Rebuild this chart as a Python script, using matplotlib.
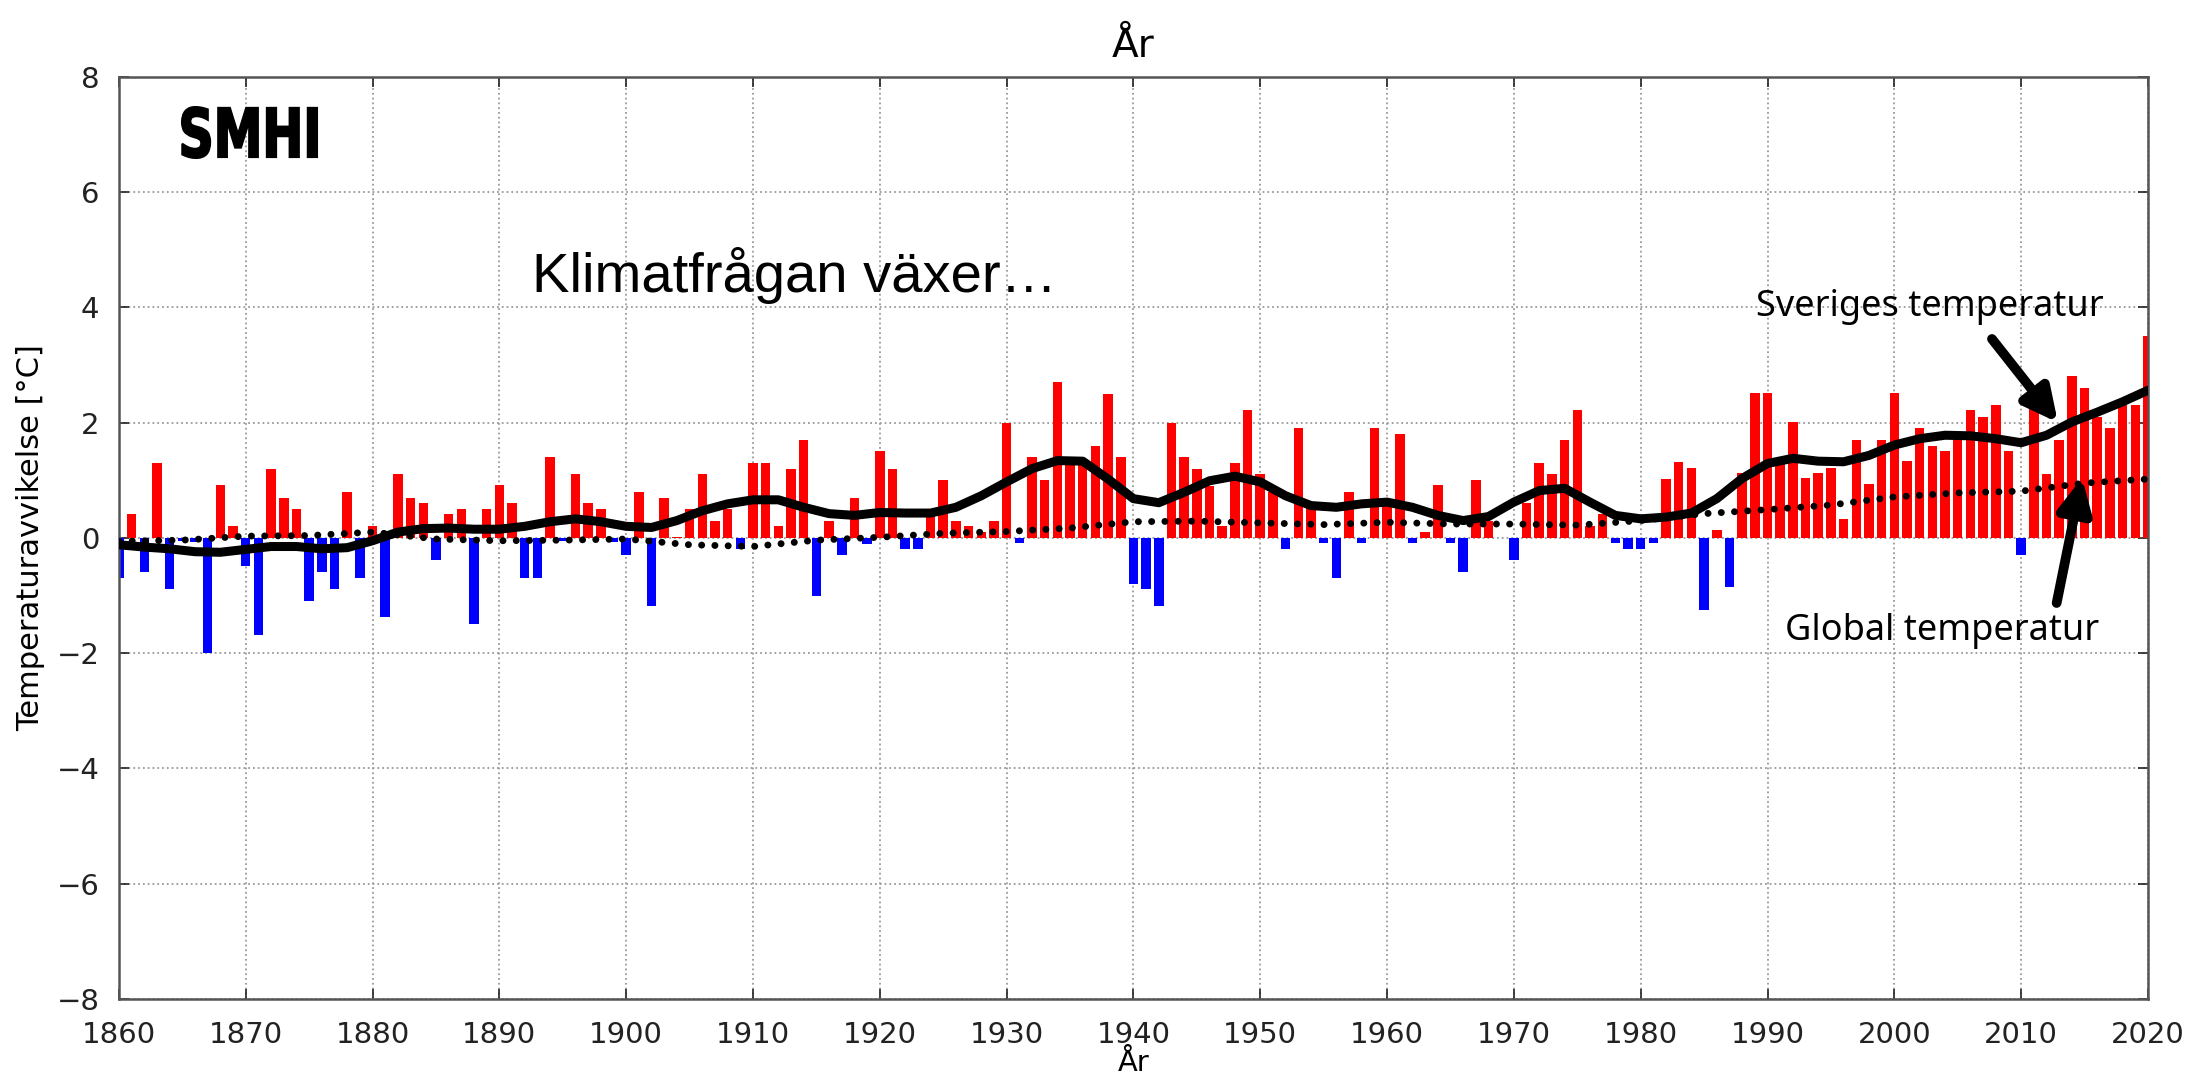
import numpy as np
import matplotlib.pyplot as plt
from matplotlib.textpath import TextPath
from matplotlib.patches import PathPatch
from matplotlib.font_manager import FontProperties
from matplotlib.transforms import Affine2D

# årliga avvikelser, Sverige (staplar)
years = np.arange(1860, 2021)
sweden_anom = [
    -0.70, 0.42, -0.60, 1.30, -0.88, -0.05, -0.08, -2.00, 0.91, 0.20,
    -0.48, -1.69, 1.20, 0.70, 0.50, -1.10, -0.60, -0.88, 0.79, -0.70,
    0.20, -1.38, 1.10, 0.70, 0.60, -0.38, 0.41, 0.50, -1.50, 0.50,
    0.91, 0.60, -0.70, -0.70, 1.40, -0.06, 1.10, 0.60, 0.50, -0.07,
    -0.30, 0.79, -1.18, 0.70, 0.02, 0.50, 1.10, 0.30, 0.50, -0.19,
    1.30, 1.30, 0.20, 1.20, 1.70, -1.00, 0.30, -0.30, 0.70, -0.10,
    1.51, 1.20, -0.20, -0.20, 0.38, 1.01, 0.30, 0.20, 0.10, 0.30,
    2.00, -0.09, 1.40, 1.01, 2.71, 1.35, 1.30, 1.60, 2.50, 1.40,
    -0.80, -0.88, -1.19, 2.00, 1.40, 1.20, 0.90, 0.20, 1.30, 2.21,
    1.10, 0.79, -0.20, 1.91, 0.60, -0.09, -0.70, 0.79, -0.09, 1.91,
    0.65, 1.81, -0.09, 0.10, 0.91, -0.09, -0.60, 1.01, 0.30, 0.00,
    -0.38, 0.60, 1.30, 1.10, 1.70, 2.21, 0.20, 0.41, -0.09, -0.20,
    -0.20, -0.09, 1.02, 1.32, 1.21, -1.25, 0.13, -0.85, 1.12, 2.51,
    2.51, 1.30, 2.01, 1.03, 1.12, 1.21, 0.32, 1.69, 0.93, 1.69,
    2.51, 1.33, 1.91, 1.60, 1.51, 1.75, 2.21, 2.10, 2.30, 1.51,
    -0.29, 2.30, 1.10, 1.69, 2.80, 2.60, 2.10, 1.91, 2.30, 2.30,
    3.50,
]

# utjämnad kurva, Sverige (avläst vartannat år)
smooth_years = np.arange(1860, 2021, 2)
sweden_smooth = [
    -0.12, -0.16, -0.19, -0.24, -0.25, -0.20, -0.15, -0.15, -0.19, -0.17,
    -0.05, 0.10, 0.16, 0.17, 0.15, 0.15, 0.20, 0.28, 0.33, 0.28,
    0.20, 0.18, 0.30, 0.47, 0.59, 0.66, 0.66, 0.53, 0.42, 0.39,
    0.44, 0.43, 0.43, 0.53, 0.73, 0.97, 1.20, 1.34, 1.33, 1.02,
    0.68, 0.61, 0.79, 0.99, 1.07, 0.97, 0.73, 0.56, 0.53, 0.59,
    0.62, 0.53, 0.39, 0.30, 0.37, 0.62, 0.82, 0.86, 0.62, 0.39,
    0.33, 0.36, 0.43, 0.68, 1.03, 1.29, 1.38, 1.33, 1.32, 1.43,
    1.61, 1.72, 1.78, 1.77, 1.72, 1.65, 1.78, 2.01, 2.18, 2.36,
    2.56,
]

# global temperatur (prickad), var femte år
global_years = np.arange(1860, 2021, 5)
global_anom = [
    -0.06, -0.04, 0.03, 0.04, 0.10, -0.02, -0.05, -0.04, -0.02, -0.12,
    -0.15, -0.04, 0.01, 0.08, 0.11, 0.17, 0.28, 0.29, 0.26, 0.23,
    0.27, 0.24, 0.24, 0.22, 0.30, 0.42, 0.49, 0.57, 0.71, 0.78,
    0.81, 0.95, 1.02,
]

fig = plt.figure(figsize=(21.9, 10.89), dpi=100)
ax = fig.add_axes([0.0543, 0.0826, 0.9265, 0.847])

colors = ['#ff0000' if v >= 0 else '#0000ff' for v in sweden_anom]
ax.bar(years, sweden_anom, width=0.75, color=colors, linewidth=0, zorder=2)

ax.plot(smooth_years, sweden_smooth, color='black', lw=6.5,
        solid_capstyle='round', solid_joinstyle='round', zorder=4)
ax.plot(global_years, global_anom, color='black', lw=5,
        dashes=(0.01, 1.9), dash_capstyle='round', zorder=3)

ax.set_xlim(1860, 2020)
ax.set_ylim(-8, 8)
ax.set_xticks(np.arange(1860, 2021, 10))
ax.set_yticks(np.arange(-8, 9, 2))
ax.grid(True, color='#9a9a9a', linestyle=':', linewidth=1.3, zorder=0)
ax.set_axisbelow(True)
ax.tick_params(direction='in', length=7, width=1.2, top=True, right=True,
               labelsize=21, colors='#222222')
ax.tick_params(axis='x', pad=16)
ax.tick_params(axis='y', pad=14)
for s in ax.spines.values():
    s.set_color('#555555')
    s.set_linewidth(1.8)

ax.set_xlabel('År', fontsize=21, labelpad=0)
ax.set_ylabel('Temperaturavvikelse [°C]', fontsize=22, labelpad=8)
ax.set_title('År', fontsize=28, pad=14)

# SMHI-logga, hopträngd fet text
tp = TextPath((0, 0), 'SMHI', size=100,
              prop=FontProperties(family='DejaVu Sans', weight='bold'))
bb = tp.get_extents()
logo_tf = (Affine2D().translate(-bb.x0, -bb.y0)
           .scale(135 / bb.width, 51 / bb.height).translate(182, 931))
fig.patches.append(PathPatch(tp, transform=logo_tf, facecolor='black',
                             edgecolor='black', lw=1.5))

ax.text(1892.6, 4.55, 'Klimatfrågan växer…', fontsize=40.5,
        family=['Liberation Sans', 'DejaVu Sans'], va='center', ha='left')
ax.text(2002.8, 4.0, 'Sveriges temperatur', fontsize=26,
        family=['Noto Sans', 'DejaVu Sans'], va='center', ha='center')
ax.text(2003.8, -1.61, 'Global temperatur', fontsize=26,
        family=['Noto Sans', 'DejaVu Sans'], va='center', ha='center')

arrow = dict(arrowstyle='-|>', color='black', lw=7, mutation_scale=50,
             shrinkA=0, shrinkB=0)
ax.annotate('', xy=(2012.9, 2.0), xytext=(2007.7, 3.45), arrowprops=arrow, zorder=5)
ax.annotate('', xy=(2014.8, 1.04), xytext=(2012.8, -1.13), arrowprops=arrow, zorder=5)

fig.savefig('out.png', dpi=100)
